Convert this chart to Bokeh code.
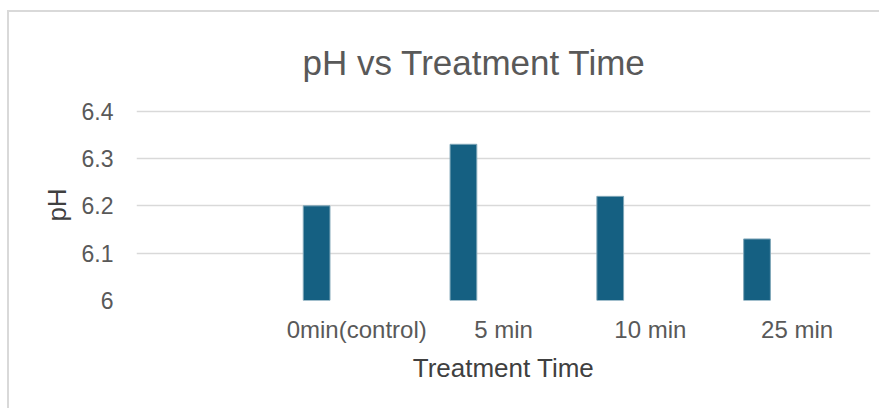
from bokeh.plotting import figure
from bokeh.models import ColumnDataSource, FactorRange, Range1d, FixedTicker, NumeralTickFormatter
from bokeh.transform import dodge
from bokeh.embed import file_html
from bokeh.resources import INLINE

categories = [" ", "0min(control)", "5 min", "10 min", "25 min"]
bar_categories = ["0min(control)", "5 min", "10 min", "25 min"]
ph_values = [6.20, 6.33, 6.22, 6.13]
y_ticks = [6.0, 6.1, 6.2, 6.3, 6.4]

FONT = "Liberation Sans"

source = ColumnDataSource(data=dict(cat=bar_categories, ph=ph_values))

p = figure(
    x_range=FactorRange(*categories, range_padding=0),
    y_range=Range1d(6.0, 6.4035),
    width=872, height=398,
    output_backend="svg", toolbar_location=None,
    min_border_left=127, min_border_right=11,
    min_border_top=97, min_border_bottom=110,
    title="pH vs Treatment Time",
)
p.styles = {"margin-top": "10px", "margin-left": "7px",
            "border-top": "2px solid #d9d9d9", "border-left": "2px solid #d9d9d9"}

p.vbar(x=dodge("cat", -0.273, range=p.x_range), top="ph", bottom=6.0, width=0.182,
       source=source, fill_color="#156082", line_color="#7fa6b8", line_width=1)

p.title.align = "left"
p.title.offset = 166
p.title.standoff = 55
p.title.text_font = FONT
p.title.text_font_size = "35px"
p.title.text_font_style = "normal"
p.title.text_color = "#595959"

p.outline_line_color = None
p.background_fill_color = "white"
p.border_fill_color = "white"

p.xgrid.grid_line_color = None
p.ygrid.grid_line_color = "#d9d9d9"
p.ygrid.grid_line_width = 1.5
p.ygrid.ticker = FixedTicker(ticks=y_ticks)

p.yaxis.ticker = FixedTicker(ticks=y_ticks)
p.yaxis.formatter = NumeralTickFormatter(format="0.[0]")
for ax in (p.xaxis[0], p.yaxis[0]):
    ax.axis_line_color = None
    ax.major_tick_line_color = None
    ax.minor_tick_line_color = None
    ax.major_label_text_font = FONT
    ax.major_label_text_color = "#595959"
    ax.axis_label_text_font = FONT
    ax.axis_label_text_font_size = "26px"
    ax.axis_label_text_font_style = "normal"
    ax.axis_label_text_color = "#404040"

p.xaxis.major_label_text_font_size = "24px"
p.yaxis.major_label_text_font_size = "23px"
p.xaxis.axis_label = "Treatment Time"
p.yaxis.axis_label = "pH"
p.xaxis.major_label_standoff = 9
p.xaxis.axis_label_standoff = 7
p.yaxis.major_label_standoff = 17
p.yaxis.axis_label_standoff = 7

open("out.html", "w").write(file_html(p, INLINE))
